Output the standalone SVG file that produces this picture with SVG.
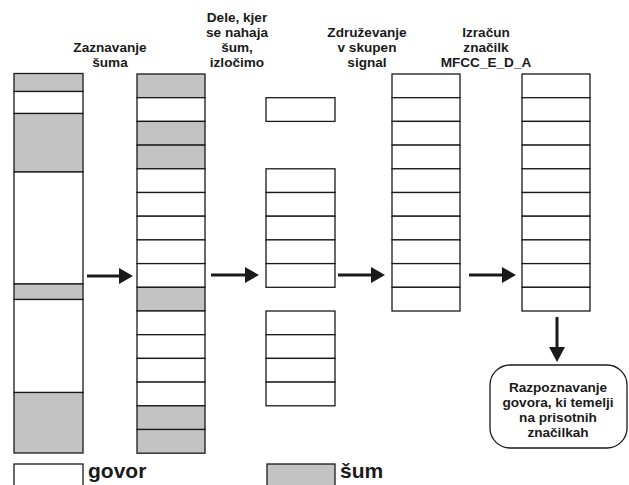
<svg xmlns="http://www.w3.org/2000/svg" width="629" height="485" viewBox="0 0 629 485">
<defs>
<style>
.w{fill:#fff;stroke:#1a1a1a;stroke-width:1.3}
.g{fill:#c3c3c3;stroke:#1a1a1a;stroke-width:1.3}
.t{font-family:"Liberation Sans",Arial,sans-serif;font-weight:bold;font-size:13.6px;fill:#1a1a1a;text-anchor:middle}
.tb{font-family:"Liberation Sans",Arial,sans-serif;font-weight:bold;font-size:13.6px;fill:#1a1a1a;text-anchor:middle}
.lg{font-family:"Liberation Sans",Arial,sans-serif;font-weight:bold;font-size:21px;fill:#1a1a1a}
.ar{stroke:#1a1a1a;stroke-width:3;fill:none}
.hd{fill:#1a1a1a}
</style>
</defs>
<rect width="629" height="485" fill="#fff"/>
<g id="labels">
<text class="t" x="110" y="52">Zaznavanje</text>
<text class="t" x="110" y="67">šuma</text>
<text class="t" x="237" y="22">Dele, kjer</text>
<text class="t" x="237" y="37">se nahaja</text>
<text class="t" x="237" y="52">šum,</text>
<text class="t" x="237" y="67">izločimo</text>
<text class="t" x="367" y="37">Združevanje</text>
<text class="t" x="367" y="52">v skupen</text>
<text class="t" x="367" y="67">signal</text>
<text class="t" x="486" y="37">Izračun</text>
<text class="t" x="486" y="52">značilk</text>
<text class="t" x="486" y="67">MFCC_E_D_A</text>
</g>
<g id="col1">
<rect class="g" x="14" y="73.5" width="69" height="18"/>
<rect class="w" x="14" y="91.5" width="69" height="22"/>
<rect class="g" x="14" y="113.5" width="69" height="58.5"/>
<rect class="w" x="14" y="172" width="69" height="112"/>
<rect class="g" x="14" y="284" width="69" height="15.5"/>
<rect class="w" x="14" y="299.5" width="69" height="93"/>
<rect class="g" x="14" y="392.5" width="69" height="60.5"/>
</g>
<g id="col2">
<rect class="g" x="137" y="74" width="68" height="23.7"/>
<rect class="w" x="137" y="97.7" width="68" height="23.7"/>
<rect class="g" x="137" y="121.4" width="68" height="23.7"/>
<rect class="g" x="137" y="145.1" width="68" height="23.7"/>
<rect class="w" x="137" y="168.8" width="68" height="23.7"/>
<rect class="w" x="137" y="192.5" width="68" height="23.7"/>
<rect class="w" x="137" y="216.2" width="68" height="23.7"/>
<rect class="w" x="137" y="239.9" width="68" height="23.7"/>
<rect class="w" x="137" y="263.6" width="68" height="23.7"/>
<rect class="g" x="137" y="287.3" width="68" height="23.7"/>
<rect class="w" x="137" y="311" width="68" height="23.7"/>
<rect class="w" x="137" y="334.7" width="68" height="23.7"/>
<rect class="w" x="137" y="358.4" width="68" height="23.7"/>
<rect class="w" x="137" y="382.1" width="68" height="23.7"/>
<rect class="g" x="137" y="405.8" width="68" height="23.7"/>
<rect class="g" x="137" y="429.5" width="68" height="23.7"/>
</g>
<g id="col3">
<rect class="w" x="266" y="97.7" width="69" height="23.7"/>
<rect class="w" x="266" y="168.8" width="69" height="23.7"/>
<rect class="w" x="266" y="192.5" width="69" height="23.7"/>
<rect class="w" x="266" y="216.2" width="69" height="23.7"/>
<rect class="w" x="266" y="239.9" width="69" height="23.7"/>
<rect class="w" x="266" y="263.6" width="69" height="23.7"/>
<rect class="w" x="266" y="311" width="69" height="23.7"/>
<rect class="w" x="266" y="334.7" width="69" height="23.7"/>
<rect class="w" x="266" y="358.4" width="69" height="23.7"/>
<rect class="w" x="266" y="382.1" width="69" height="23.7"/>
</g>
<g id="col4">
<rect class="w" x="392" y="74" width="68" height="23.7"/>
<rect class="w" x="392" y="97.7" width="68" height="23.7"/>
<rect class="w" x="392" y="121.4" width="68" height="23.7"/>
<rect class="w" x="392" y="145.1" width="68" height="23.7"/>
<rect class="w" x="392" y="168.8" width="68" height="23.7"/>
<rect class="w" x="392" y="192.5" width="68" height="23.7"/>
<rect class="w" x="392" y="216.2" width="68" height="23.7"/>
<rect class="w" x="392" y="239.9" width="68" height="23.7"/>
<rect class="w" x="392" y="263.6" width="68" height="23.7"/>
<rect class="w" x="392" y="287.3" width="68" height="23.7"/>
</g>
<g id="col5">
<rect class="w" x="522" y="74" width="68" height="23.7"/>
<rect class="w" x="522" y="97.7" width="68" height="23.7"/>
<rect class="w" x="522" y="121.4" width="68" height="23.7"/>
<rect class="w" x="522" y="145.1" width="68" height="23.7"/>
<rect class="w" x="522" y="168.8" width="68" height="23.7"/>
<rect class="w" x="522" y="192.5" width="68" height="23.7"/>
<rect class="w" x="522" y="216.2" width="68" height="23.7"/>
<rect class="w" x="522" y="239.9" width="68" height="23.7"/>
<rect class="w" x="522" y="263.6" width="68" height="23.7"/>
<rect class="w" x="522" y="287.3" width="68" height="23.7"/>
</g>
<g id="result">
<rect x="490" y="365" width="137" height="83" rx="20" ry="20" fill="#fff" stroke="#1a1a1a" stroke-width="1.3"/>
<text class="tb" x="558" y="392">Razpoznavanje</text>
<text class="tb" x="558" y="407">govora, ki temelji</text>
<text class="tb" x="558" y="422">na prisotnih</text>
<text class="tb" x="558" y="437">značilkah</text>
</g>
<g id="connectors">
<line class="ar" x1="87" y1="276" x2="121" y2="276"/>
<polygon class="hd" points="119,268 133,276 119,284"/>
<line class="ar" x1="211" y1="275" x2="247" y2="275"/>
<polygon class="hd" points="245,267 259,275 245,283"/>
<line class="ar" x1="338" y1="275" x2="373" y2="275"/>
<polygon class="hd" points="371,267 385,275 371,283"/>
<line class="ar" x1="469" y1="275" x2="504" y2="275"/>
<polygon class="hd" points="502,267 516,275 502,283"/>
<line class="ar" x1="557" y1="317" x2="557" y2="349"/>
<polygon class="hd" points="549,347 557,362 565,347"/>
</g>
<g id="legend">
<rect class="w" x="14" y="464" width="69" height="30"/>
<text class="lg" x="88" y="478">govor</text>
<rect class="g" x="267" y="464" width="68" height="30"/>
<text class="lg" x="340" y="478">šum</text>
</g>
</svg>
